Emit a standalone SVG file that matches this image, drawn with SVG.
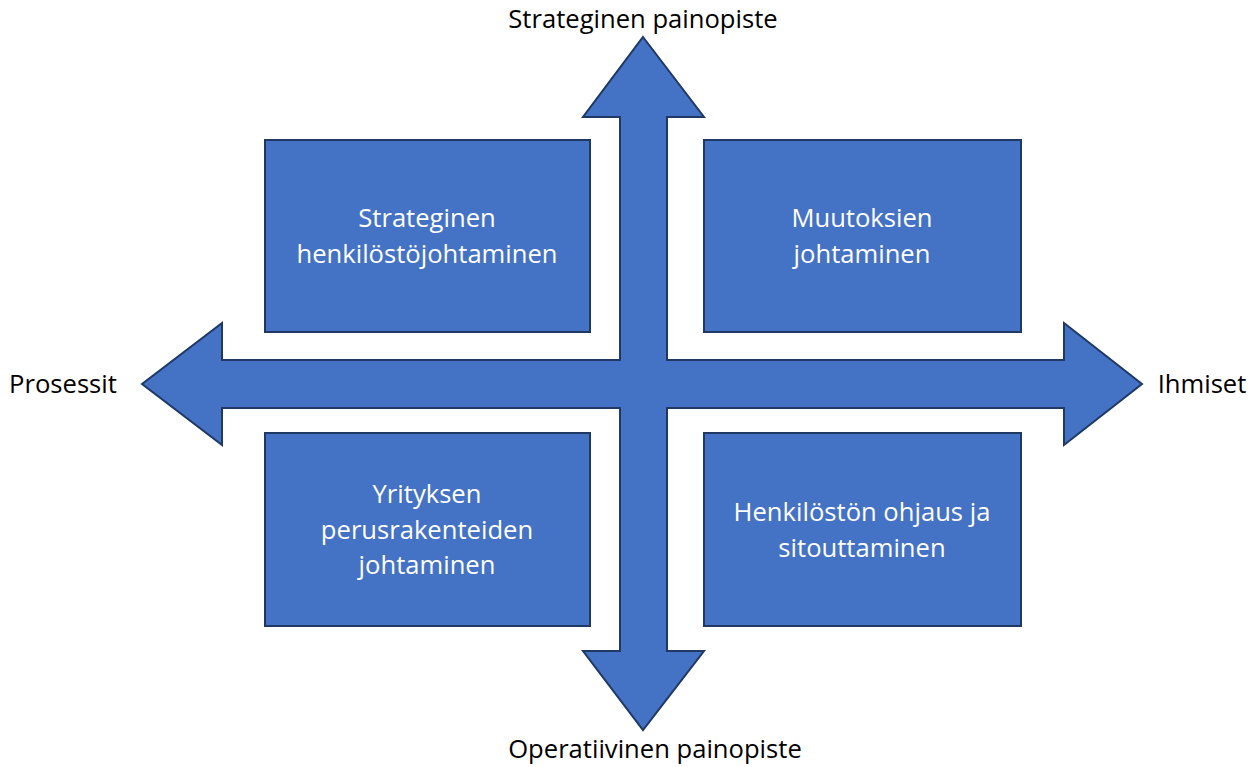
<svg xmlns="http://www.w3.org/2000/svg" width="1256" height="767" viewBox="0 0 1256 767">
<style>
.shape{fill:#4472C4;stroke:#1F3864;stroke-width:2;stroke-linejoin:miter}
.in{fill:#FFFFFF;font-family:"Open Sans","Liberation Sans",Arial,sans-serif;font-size:25.6px;text-anchor:middle}
.lbl{fill:#000000;font-family:"Open Sans","Liberation Sans",Arial,sans-serif;font-size:25.6px;text-anchor:middle}
</style>
<rect width="1256" height="767" fill="#FFFFFF"/>
<g id="connectors">
<path class="shape" d="M643,37 L704,117 L667,117 L667,360 L1064,360 L1064,323 L1142,384 L1064,445 L1064,408 L667,408 L667,651 L704,651 L643,730 L583,651 L620,651 L620,408 L222,408 L222,445 L142,384 L222,323 L222,360 L620,360 L620,117 L583,117 Z"/>
</g>
<g id="node-tl">
<rect class="shape" x="265" y="140" width="325" height="192"/>
<text class="in" x="427" y="227">Strateginen</text>
<text class="in" x="427" y="263">henkilöstöjohtaminen</text>
</g>
<g id="node-tr">
<rect class="shape" x="704" y="140" width="317" height="192"/>
<text class="in" x="862" y="227">Muutoksien</text>
<text class="in" x="862" y="263">johtaminen</text>
</g>
<g id="node-bl">
<rect class="shape" x="265" y="433" width="325" height="193"/>
<text class="in" x="427" y="503">Yrityksen</text>
<text class="in" x="427" y="539">perusrakenteiden</text>
<text class="in" x="427" y="574">johtaminen</text>
</g>
<g id="node-br">
<rect class="shape" x="704" y="433" width="317" height="193"/>
<text class="in" x="862" y="521">Henkilöstön ohjaus ja</text>
<text class="in" x="862" y="557">sitouttaminen</text>
</g>
<g id="label-top"><text class="lbl" x="643" y="28">Strateginen painopiste</text></g>
<g id="label-bottom"><text class="lbl" x="655" y="758">Operatiivinen painopiste</text></g>
<g id="label-left"><text class="lbl" x="63" y="393">Prosessit</text></g>
<g id="label-right"><text class="lbl" x="1202" y="393">Ihmiset</text></g>
</svg>
